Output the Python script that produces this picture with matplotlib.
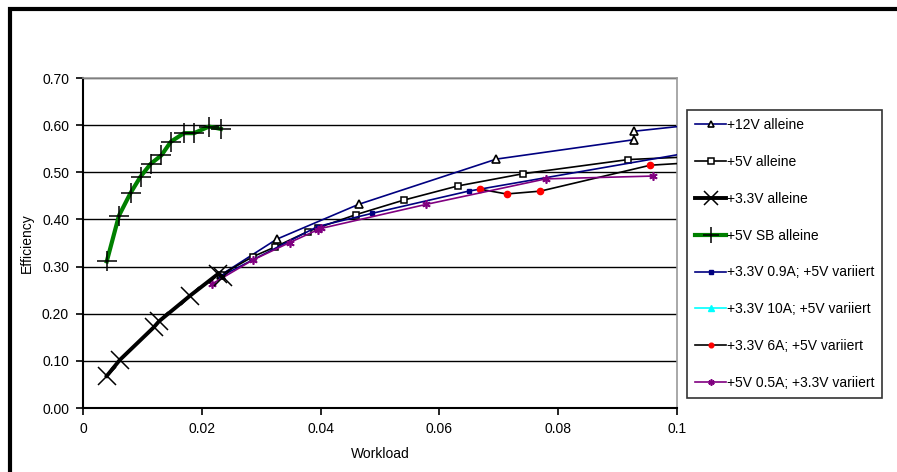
import matplotlib.pyplot as plt
from matplotlib.patches import Rectangle

plt.rcParams['font.family'] = ['Liberation Sans', 'DejaVu Sans']

# data (workload, efficiency)
x_12v = [0.0233, 0.0326, 0.0464, 0.0696, 0.0927, 0.0927, 0.115]
y_12v = [0.283, 0.358, 0.432, 0.528, 0.569, 0.587, 0.617]

x_5v = [0.0233, 0.0286, 0.0324, 0.0378, 0.0395, 0.0459, 0.0540, 0.0631, 0.0741, 0.0918, 0.115]
y_5v = [0.283, 0.321, 0.342, 0.374, 0.382, 0.410, 0.441, 0.471, 0.497, 0.527, 0.540]

x_33v = [0.0040, 0.0062, 0.0119, 0.0128, 0.0180, 0.0228, 0.0235]
y_33v = [0.068, 0.102, 0.171, 0.184, 0.238, 0.285, 0.278]

x_5vsb = [0.0040, 0.00605, 0.0080, 0.0097, 0.0114, 0.0132, 0.0148, 0.0170, 0.0187, 0.0212, 0.0232]
y_5vsb = [0.311, 0.408, 0.456, 0.491, 0.518, 0.536, 0.565, 0.583, 0.583, 0.597, 0.592]

x_09a = [0.0233, 0.0395, 0.0487, 0.0649, 0.115]
y_09a = [0.280, 0.385, 0.413, 0.460, 0.570]

x_10a = []
y_10a = []

x_6a = [0.0669, 0.0713, 0.0770, 0.0955, 0.115]
y_6a = [0.464, 0.454, 0.460, 0.515, 0.530]

x_05a = [0.0217, 0.0286, 0.0348, 0.0395, 0.0401, 0.0578, 0.0779, 0.0960]
y_05a = [0.263, 0.314, 0.351, 0.378, 0.381, 0.432, 0.486, 0.492]

x_ticks = [0, 0.02, 0.04, 0.06, 0.08, 0.1]
x_ticklabels = ['0', '0.02', '0.04', '0.06', '0.08', '0.1']
y_ticks = [0.0, 0.1, 0.2, 0.3, 0.4, 0.5, 0.6, 0.7]

fig = plt.figure(figsize=(8.97, 4.72), dpi=100)
ax = fig.add_axes([83 / 897, 64 / 472, 594 / 897, 330 / 472])

# outer chart border (right and bottom lie outside the picture)
fig.patches.append(Rectangle((10 / 897, -0.1), 1.2, (463 / 472) + 0.1,
                             transform=fig.transFigure, fill=False,
                             edgecolor='black', linewidth=3))

navy = '#000080'
purple = '#800080'

ax.plot(x_12v, y_12v, color=navy, lw=1.2, marker='^', ms=6, mfc='white',
        mec='black', mew=1.2, label='+12V alleine', zorder=3)
ax.plot(x_5v, y_5v, color='black', lw=1.2, marker='s', ms=5, mfc='white',
        mec='black', mew=1.1, label='+5V alleine', zorder=3)
ax.plot(x_09a, y_09a, color=navy, lw=1.2, marker='s', ms=3, mfc=navy,
        mec=navy, label='+3.3V 0.9A; +5V variiert', zorder=3)
ax.plot(x_10a, y_10a, color='#00FFFF', lw=1.2, marker='^', ms=5, mfc='#00FFFF',
        mec='#00FFFF', label='+3.3V 10A; +5V variiert', zorder=3)
ax.plot(x_6a, y_6a, color='black', lw=1.2, marker='o', ms=4.5, mfc='red',
        mec='red', label='+3.3V 6A; +5V variiert', zorder=3)
ax.plot(x_05a, y_05a, color=purple, lw=1.2, marker=(6, 2, 0), ms=6, mfc=purple,
        mec=purple, mew=1.2, label='+5V 0.5A; +3.3V variiert', zorder=3)
ax.plot(x_33v, y_33v, color='black', lw=2.8, marker='x', ms=13, mec='black',
        mew=1.1, label='+3.3V alleine', zorder=4)
ax.plot(x_5vsb, y_5vsb, color='green', lw=3, marker='+', ms=15, mec='black',
        mew=1.1, label='+5V SB alleine', zorder=4)

ax.set_xlim(0, 0.1)
ax.set_ylim(0, 0.7)
ax.set_xticks(x_ticks)
ax.set_xticklabels(x_ticklabels)
ax.set_yticks(y_ticks)
ax.set_yticklabels(['%.2f' % v for v in y_ticks])
ax.tick_params(direction='out', length=5, width=1.2, labelsize=10, pad=5)
ax.yaxis.grid(True, color='black', lw=1)
ax.set_axisbelow(True)
for s in ['left', 'bottom']:
    ax.spines[s].set_linewidth(1.5)
for s in ['top', 'right']:
    ax.spines[s].set_color('#999999')
    ax.spines[s].set_linewidth(1.2)

ax.set_xlabel('Workload', fontsize=10, labelpad=8)
ax.set_ylabel('Efficiency', fontsize=10, labelpad=6)

# legend order as in the picture
h, l = ax.get_legend_handles_labels()
order = ['+12V alleine', '+5V alleine', '+3.3V alleine', '+5V SB alleine',
         '+3.3V 0.9A; +5V variiert', '+3.3V 10A; +5V variiert',
         '+3.3V 6A; +5V variiert', '+5V 0.5A; +3.3V variiert']
hd = dict(zip(l, h))
leg = fig.legend([hd[k] for k in order], order, loc='upper left',
                 bbox_to_anchor=(687 / 897, 1 - 110 / 472), fontsize=10,
                 frameon=True, fancybox=False, edgecolor='black',
                 handlelength=2.2, handletextpad=0.05, labelspacing=1.64,
                 borderpad=0.6, borderaxespad=0, markerscale=0.75)
leg.get_frame().set_linewidth(1.2)

fig.savefig('out.png', dpi=100)
